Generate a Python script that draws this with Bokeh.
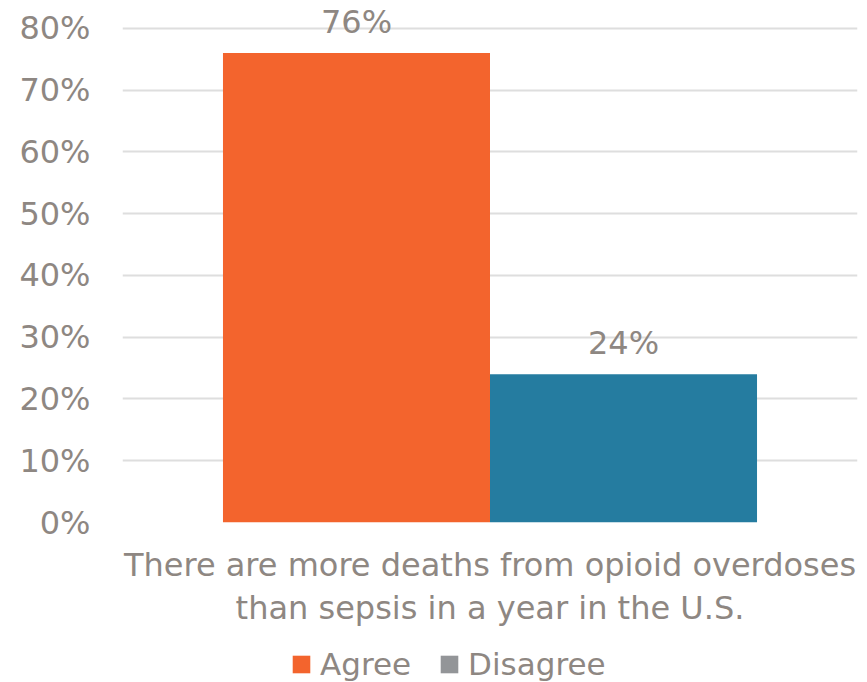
from bokeh.plotting import figure
from bokeh.layouts import column
from bokeh.models import (FactorRange, Range1d, FixedTicker, Legend, LegendItem,
                          ColumnDataSource, PrintfTickFormatter)
from bokeh.transform import dodge
from bokeh.core.properties import value
from bokeh.embed import file_html
from bokeh.resources import INLINE

# ---- data ----
categories = ["There are more deaths from opioid overdoses\nthan sepsis in a year in the U.S."]
series_names = ["Agree", "Disagree"]
agree_values = [76]
disagree_values = [24]
agree_labels = ["76%"]
disagree_labels = ["24%"]
y_tick_values = [0, 10, 20, 30, 40, 50, 60, 70, 80]

# ---- styles ----
FONT = "DejaVu Sans"
TEXT_COLOR = "#8E8782"
ORANGE = "#F3642D"
TEAL = "#257CA0"
LEGEND_GRAY = "#939598"
GRID = "#DEDEDE"
FS = "32px"

src_a = ColumnDataSource(dict(cat=categories, val=agree_values, lab=agree_labels))
src_d = ColumnDataSource(dict(cat=categories, val=disagree_values, lab=disagree_labels))

p = figure(width=867, height=640, output_backend="svg", toolbar_location=None,
           x_range=FactorRange(factors=categories, range_padding=0),
           y_range=Range1d(0, 84.5),
           min_border_left=122, min_border_right=10, min_border_top=0,
           min_border_bottom=118, outline_line_color=None)

bw = 0.3633
r_a = p.vbar(x=dodge("cat", -bw / 2, range=p.x_range), top="val", width=bw,
             source=src_a, fill_color=ORANGE, line_color=None)
r_d = p.vbar(x=dodge("cat", bw / 2, range=p.x_range), top="val", width=bw,
             source=src_d, fill_color=TEAL, line_color=None)

for src, off in ((src_a, -bw / 2), (src_d, bw / 2)):
    p.text(x=dodge("cat", off, range=p.x_range), y="val", text="lab", source=src,
           text_font=value(FONT), text_font_size=FS, text_color=TEXT_COLOR,
           text_align="center", text_baseline="alphabetic", y_offset=-31)

# axes
p.yaxis.ticker = FixedTicker(ticks=y_tick_values)
p.yaxis.formatter = PrintfTickFormatter(format="%d%%")
p.yaxis.axis_line_color = None
p.yaxis.major_tick_line_color = None
p.yaxis.major_tick_out = 0
p.yaxis.major_tick_in = 0
p.yaxis.minor_tick_line_color = None
p.yaxis.major_label_standoff = 32
p.yaxis.major_label_text_font = FONT
p.yaxis.major_label_text_font_size = FS
p.yaxis.major_label_text_color = TEXT_COLOR

p.xaxis.axis_line_color = None
p.xaxis.major_tick_line_color = None
p.xaxis.major_label_standoff = 17
p.xaxis.major_label_text_font = FONT
p.xaxis.major_label_text_font_size = FS
p.xaxis.major_label_text_color = TEXT_COLOR
p.xaxis.major_label_text_line_height = 1.15

p.xgrid.grid_line_color = None
p.ygrid.grid_line_color = GRID
p.ygrid.grid_line_width = 2
p.ygrid.ticker = FixedTicker(ticks=y_tick_values)

# ---- legend strip ----
lg = figure(width=867, height=42, output_backend="svg", toolbar_location=None,
            x_range=Range1d(0, 1), y_range=Range1d(0, 1),
            x_axis_location=None, y_axis_location=None,
            min_border=0, outline_line_color=None)
lg.xgrid.grid_line_color = None
lg.ygrid.grid_line_color = None
# zero-height swatch renderers, only used to draw the legend keys
leg_src = ColumnDataSource(dict(x=[0.5], top=[0.0]))
l_a = lg.vbar(x="x", top="top", width=0.01, source=leg_src, fill_color=ORANGE, line_color=None)
l_d = lg.vbar(x="x", top="top", width=0.01, source=leg_src, fill_color=LEGEND_GRAY, line_color=None)

legend = Legend(items=[LegendItem(label=series_names[0], renderers=[l_a]),
                       LegendItem(label=series_names[1], renderers=[l_d])],
                orientation="horizontal", location=(168, 0),
                glyph_width=22, glyph_height=22, label_standoff=8, spacing=27,
                padding=0, margin=0, border_line_color=None, background_fill_alpha=0,
                label_text_font=FONT, label_text_font_size="31px",
                label_text_color=TEXT_COLOR)
lg.add_layout(legend)

layout = column(p, lg, spacing=0)
open("out.html", "w").write(file_html(layout, INLINE))
